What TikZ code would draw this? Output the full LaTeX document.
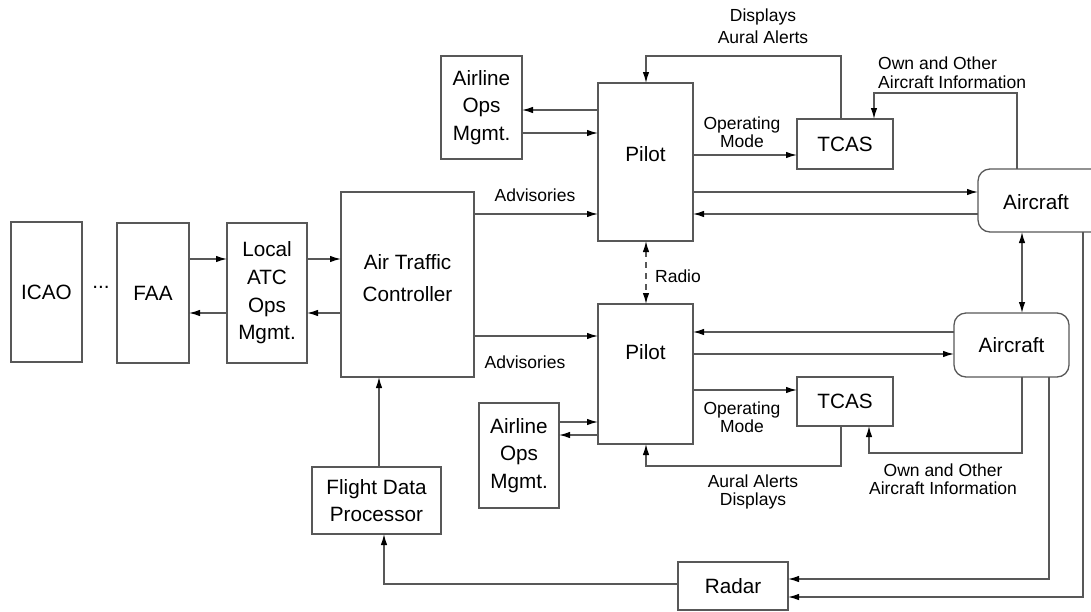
\documentclass[tikz,border=0pt]{standalone}
\usepackage{fontspec}
\setmainfont{Liberation Sans}
\usetikzlibrary{arrows.meta,calc}
\definecolor{ln}{RGB}{88,88,88}
\tikzset{
 box/.style={draw=ln, line width=1.3pt, inner sep=0pt, outer sep=0pt, font=\fontsize{20.7}{27.7}\selectfont, align=center},
 rbox/.style={box, rounded corners=12pt},
 btxt/.style={font=\fontsize{20.7}{27.7}\selectfont, align=center, inner sep=0pt},
 lbl/.style={font=\fontsize{17.5}{19}\selectfont, align=center, inner sep=0pt},
 con/.style={draw=ln, line width=1.3pt},
 arr/.style={con, -{Latex[length=11pt,width=6.5pt,color=black]}},
 arrb/.style={con, {Latex[length=11pt,width=6.5pt,color=black]}-{Latex[length=11pt,width=6.5pt,color=black]}},
}
\begin{document}
\begin{tikzpicture}[x=1pt,y=-1pt]
\useasboundingbox (0,0) rectangle (1091,611);
\clip (0,0) rectangle (1091,611);
% boxes
\node[box, minimum width=71pt, minimum height=140pt] (icao) at (46.5,292) {ICAO};
\node[btxt] (dots) at (101,287) {...};
\node[box, minimum width=72pt, minimum height=140pt] (faa) at (153,293) {FAA};
\node[box, minimum width=80pt, minimum height=140pt] (loc) at (267,293) {Local\\ATC\\Ops\\Mgmt.};
\node[box, minimum width=133pt, minimum height=185pt] (atc) at (407.5,284.5) {};
\node[btxt, font=\fontsize{20.7}{32}\selectfont] (atct) at (407.5,278) {Air Traffic\\Controller};
\node[box, minimum width=81pt, minimum height=103pt] (al1) at (481.5,107.5) {Airline\\Ops\\Mgmt.};
\node[box, minimum width=95pt, minimum height=158pt] (p1) at (645.5,162) {};
\node[btxt] (p1t) at (645.5,154) {Pilot};
\node[box, minimum width=96pt, minimum height=50pt] (tcas1) at (845,144) {TCAS};
\node[rbox, minimum width=132pt, minimum height=63pt] (ac1) at (1044,200.5) {};
\node[btxt] (ac1t) at (1036,202) {Aircraft};
\node[box, minimum width=95pt, minimum height=140pt] (p2) at (645.5,374) {};
\node[btxt] (p2t) at (645.5,352) {Pilot};
\node[rbox, minimum width=115pt, minimum height=64pt] (ac2) at (1011.5,345) {Aircraft};
\node[box, minimum width=96pt, minimum height=49pt] (tcas2) at (845,401.5) {TCAS};
\node[box, minimum width=80pt, minimum height=105pt] (al2) at (519,455.5) {Airline\\Ops\\Mgmt.};
\node[box, minimum width=129pt, minimum height=67pt] (fdp) at (376.5,500.5) {Flight Data\\Processor};
\node[box, minimum width=110pt, minimum height=48pt] (radar) at (733,586) {Radar};
% labels
\node[lbl, font=\fontsize{17.5}{22}\selectfont] (ldisp1) at (763,26) {Displays\\Aural Alerts};
\node[lbl, font=\fontsize{17.5}{18}\selectfont] (lop1) at (742,132) {Operating\\Mode};
\node[lbl] (ladv1) at (535,195) {Advisories};
\node[lbl, align=left, anchor=west, font=\fontsize{17.5}{18.5}\selectfont] (lown1) at (878,72.5) {Own and Other\\Aircraft Information};
\node[lbl] (lradio) at (678,276) {Radio};
\node[lbl] (ladv2) at (525,362) {Advisories};
\node[lbl, font=\fontsize{17.5}{18}\selectfont] (lop2) at (742,417) {Operating\\Mode};
\node[lbl, font=\fontsize{17.5}{18}\selectfont] (laur2) at (753,491.5) {Aural Alerts\\Displays};
\node[lbl, font=\fontsize{17.5}{18}\selectfont] (lown2) at (943,479.5) {Own and Other\\Aircraft Information};
% connectors left part
\draw[arr] (faa.east |- 0,259) -- (loc.west |- 0,259);
\draw[arr] (loc.west |- 0,313) -- (faa.east |- 0,313);
\draw[arr] (loc.east |- 0,259) -- (atc.west |- 0,259);
\draw[arr] (atc.west |- 0,313) -- (loc.east |- 0,313);
\draw[arr] (atc.east |- 0,214) -- (p1.west |- 0,214);
\draw[arr] (atc.east |- 0,336) -- (p2.west |- 0,336);
\draw[arr] (p1.west |- 0,110) -- (al1.east |- 0,110);
\draw[arr] (al1.east |- 0,133) -- (p1.west |- 0,133);
\draw[arr] (al2.east |- 0,422) -- (p2.west |- 0,422);
\draw[arr] (p2.west |- 0,435) -- (al2.east |- 0,435);
\draw[arr] (fdp.north -| 379,0) -- (atc.south -| 379,0);
% pilot - tcas - aircraft
\draw[arr] (p1.east |- 0,155) -- (tcas1.west |- 0,155);
\draw[arr] (p2.east |- 0,390) -- (tcas2.west |- 0,390);
\draw[arr] (p1.east |- 0,192) -- (ac1.west |- 0,192);
\draw[arr] (ac1.west |- 0,214) -- (p1.east |- 0,214);
\draw[arr] (ac2.west |- 0,332) -- (p2.east |- 0,332);
\draw[arr] (p2.east |- 0,354) -- (ac2.west |- 0,354);
\draw[arr] (tcas1.north -| 841,0) |- (646,56) -- (p1.north -| 646,0);
\draw[arr] (ac1.north -| 1017,0) |- (874,93) -- (tcas1.north -| 874,0);
\draw[arr] (ac2.south -| 1022,0) |- (869,453) -- (tcas2.south -| 869,0);
\draw[arr] (tcas2.south -| 841,0) |- (646,466) -- (p2.south -| 646,0);
\draw[arrb] (ac1.south -| 1022,0) -- (ac2.north -| 1022,0);
\draw[arrb, dash pattern=on 6pt off 5pt] (p1.south -| 646,0) -- (p2.north -| 646,0);
% radar
\draw[arr] (ac2.south -| 1049,0) |- (radar.east |- 0,579);
\draw[arr] (ac1.south -| 1083,0) |- (radar.east |- 0,597);
\draw[arr] (radar.west |- 0,584) -| (fdp.south -| 384,0);
\end{tikzpicture}
\end{document}
